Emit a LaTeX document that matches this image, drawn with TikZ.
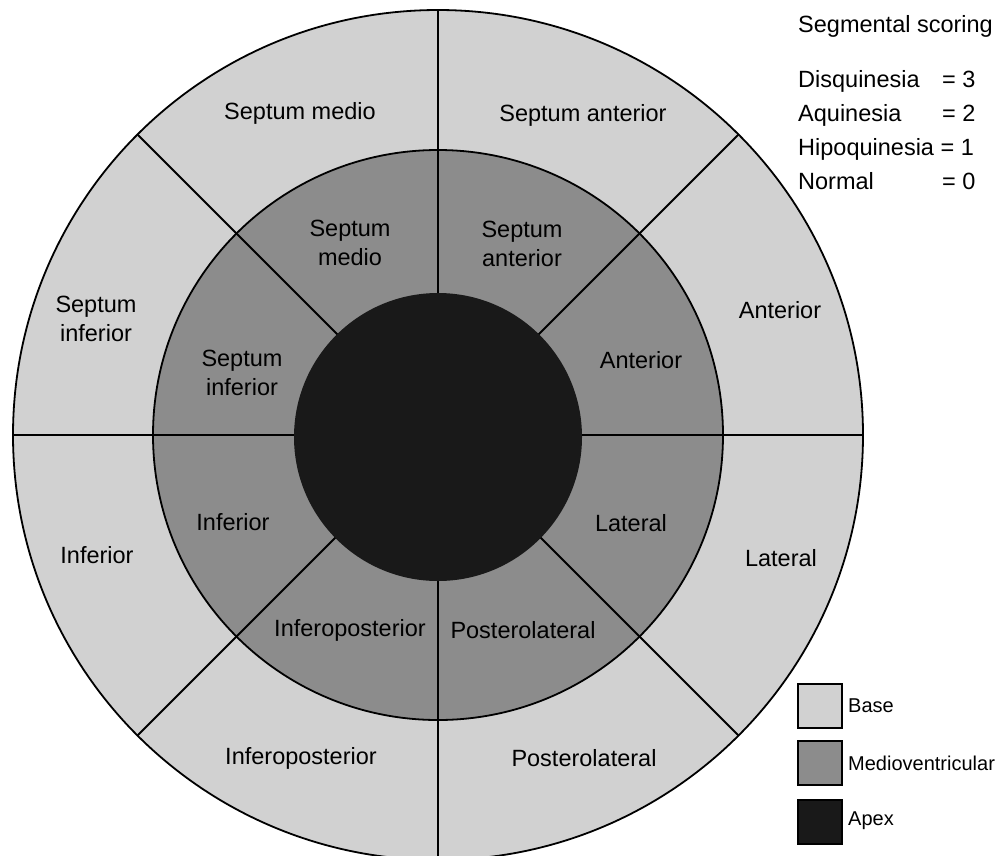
\documentclass[tikz,border=0pt]{standalone}
\usepackage{fontspec}
\setmainfont{Liberation Sans}
\definecolor{basegray}{gray}{0.82}
\definecolor{mediogray}{gray}{0.55}
\definecolor{apexgray}{gray}{0.10}
\begin{document}
\begin{tikzpicture}[x=1pt,y=-1pt,
  ring/.style={circle, draw=black, line width=1.8pt, inner sep=0pt, outer sep=0pt},
  divider/.style={line width=1.8pt},
  lbl/.style={font=\fontsize{23.5}{28.5}\selectfont, align=center, inner sep=0pt},
  scoretext/.style={font=\fontsize{23.5}{28}\selectfont, anchor=base west, inner sep=0pt},
  keybox/.style={draw=black, line width=1.5pt, minimum width=44pt, minimum height=44pt, inner sep=0pt, anchor=north west},
  keytext/.style={font=\fontsize{20}{24}\selectfont, anchor=west, inner sep=0pt}]
\useasboundingbox (0,0) rectangle (996,855);
% rings
\node[ring, fill=basegray, minimum size=850pt] (outer) at (438,435) {};
\node[ring, fill=mediogray, minimum size=570pt] (mid) at (438,435) {};
\draw[divider] (outer.north) -- (outer.south);
\draw[divider] (outer.west) -- (outer.east);
\draw[divider] (outer.north west) -- (outer.south east);
\draw[divider] (outer.north east) -- (outer.south west);
\node[circle, fill=apexgray, minimum size=288pt, inner sep=0pt, outer sep=0pt] (inner) at (438,437) {};
% outer ring labels
\node[lbl] (o1) at (300,113) {Septum medio};
\node[lbl] (o2) at (583,115) {Septum anterior};
\node[lbl] (o3) at (96,319) {Septum\\inferior};
\node[lbl] (o4) at (780,310) {Anterior};
\node[lbl] (o5) at (97,555) {Inferior};
\node[lbl] (o6) at (781,558) {Lateral};
\node[lbl] (o7) at (301,758) {Inferoposterior};
\node[lbl] (o8) at (584,758) {Posterolateral};
% middle ring labels
\node[lbl] (m1) at (350,243) {Septum\\medio};
\node[lbl] (m2) at (522,244) {Septum\\anterior};
\node[lbl] (m3) at (242,373) {Septum\\inferior};
\node[lbl] (m4) at (641,360) {Anterior};
\node[lbl] (m5) at (233,522) {Inferior};
\node[lbl] (m6) at (631,523) {Lateral};
\node[lbl] (m7) at (350,630) {Inferoposterior};
\node[lbl] (m8) at (523,630) {Posterolateral};
% scoring legend
\node[scoretext] (sh) at (798,32) {Segmental scoring};
\node[scoretext] (s1) at (798,87) {Disquinesia};
\node[scoretext] (v1) at (942,87) {= 3};
\node[scoretext] (s2) at (798,121) {Aquinesia};
\node[scoretext] (v2) at (942,121) {= 2};
\node[scoretext] (s3) at (798,155) {Hipoquinesia = 1};
\node[scoretext] (s4) at (798,189) {Normal};
\node[scoretext] (v4) at (942,189) {= 0};
% key
\node[keybox, fill=basegray] (k1) at (797,683) {};
\node[keytext] (t1) at (848,706) {Base};
\node[keybox, fill=mediogray] (k2) at (797,740) {};
\node[keytext] (t2) at (848,763) {Medioventricular};
\node[keybox, fill=apexgray] (k3) at (797,799) {};
\node[keytext] (t3) at (848,821) {Apex};
\end{tikzpicture}
\end{document}
